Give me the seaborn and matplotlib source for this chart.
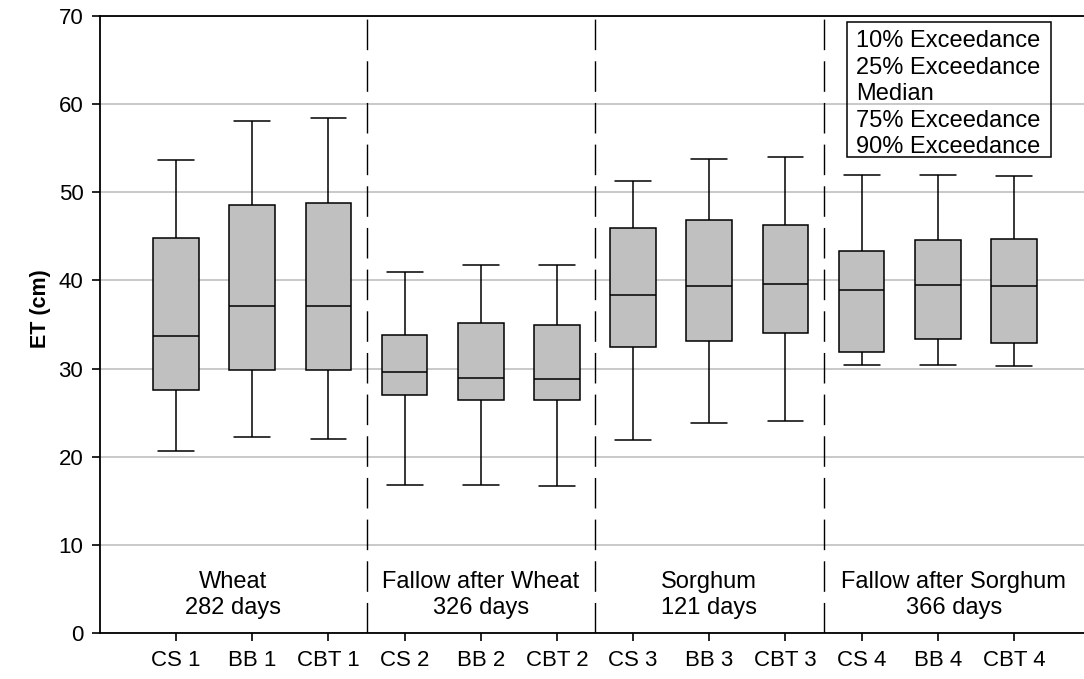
import numpy as np
import pandas as pd
import matplotlib
matplotlib.use('Agg')
import matplotlib.pyplot as plt
import seaborn as sns
from matplotlib.patches import Rectangle

sites = ['CS 1', 'BB 1', 'CBT 1', 'CS 2', 'BB 2', 'CBT 2',
         'CS 3', 'BB 3', 'CBT 3', 'CS 4', 'BB 4', 'CBT 4']
# exceedance levels (cm)
exc10 = [53.7, 58.1, 58.4, 41.0, 41.8, 41.8, 51.3, 53.8, 54.0, 52.0, 52.0, 51.9]
exc25 = [44.85, 48.6, 48.8, 33.8, 35.2, 34.9, 45.9, 46.8, 46.3, 43.3, 44.6, 44.7]
median = [33.75, 37.05, 37.1, 29.6, 28.9, 28.8, 38.3, 39.35, 39.65, 38.9, 39.5, 39.4]
exc75 = [27.6, 29.8, 29.8, 27.05, 26.4, 26.4, 32.4, 33.1, 34.0, 31.85, 33.3, 32.95]
exc90 = [20.6, 22.2, 22.0, 16.8, 16.8, 16.7, 21.85, 23.8, 24.0, 30.4, 30.45, 30.3]

periods = ['Wheat\n282 days', 'Fallow after Wheat\n326 days',
           'Sorghum\n121 days', 'Fallow after Sorghum\n366 days']
legend_lines = ['10% Exceedance', '25% Exceedance', 'Median',
                '75% Exceedance', '90% Exceedance']

# five points per site -> quartiles land exactly on 25/50/75, whiskers on min/max
rows = []
for i, s in enumerate(sites):
    for v in (exc90[i], exc75[i], median[i], exc25[i], exc10[i]):
        rows.append((s, v))
df = pd.DataFrame(rows, columns=['site', 'ET'])

sns.set_style('ticks')
plt.rcParams['font.family'] = ['Liberation Sans', 'DejaVu Sans']
plt.rcParams['text.color'] = 'black'
plt.rcParams['axes.labelcolor'] = 'black'
plt.rcParams['xtick.color'] = 'black'
plt.rcParams['ytick.color'] = 'black'

fig = plt.figure(figsize=(10.84, 6.79), dpi=100)
ax = fig.add_axes([100 / 1084, 46 / 679, 1 - 100 / 1084, 617 / 679])

ax.yaxis.grid(True, color='#c0c0c0', lw=1.2, zorder=0)
ax.set_axisbelow(True)

sns.boxplot(data=df, x='site', y='ET', order=sites, whis=(0, 100), width=0.6,
            color='#c0c0c0', saturation=1, linecolor='black', linewidth=1.1,
            showfliers=False, capwidths=0.47, ax=ax)

xmin, xmax = -1.0, 11.92
dividers = [2.5, 5.5, 8.5]
for xd in dividers:
    ax.axvline(xd, color='black', lw=1, dashes=(22, 8), zorder=3)

# period labels centred in each segment between dividers / axis edges
edges = [xmin] + dividers + [xmax]
for k, txt in enumerate(periods):
    ax.text((edges[k] + edges[k + 1]) / 2, 4.3, txt, ha='center', va='center',
            fontsize=17, linespacing=1.2)

ax.set_xlim(xmin, xmax)
ax.set_ylim(0, 70)
ax.set_yticks(range(0, 71, 10))
ax.set_xlabel('')
ax.set_ylabel('ET (cm)', fontsize=15.5, fontweight='bold')
ax.yaxis.set_label_coords(-0.05, 0.525)
ax.tick_params(axis='both', labelsize=16, length=6, width=1.2, pad=6, color='black')
for sp in ('left', 'bottom', 'top'):
    ax.spines[sp].set_linewidth(1.3)
    ax.spines[sp].set_color('black')
ax.spines['right'].set_visible(False)

# text-only legend box
fig.patches.append(Rectangle((847 / 1084, 1 - 157 / 679), 204 / 1084, 135 / 679,
                             transform=fig.transFigure, fill=False,
                             edgecolor='black', lw=1.1, zorder=5))
for k, line in enumerate(legend_lines):
    fig.text(856 / 1084, 1 - (47.3 + 26.5 * k) / 679, line, ha='left',
             va='baseline', fontsize=17)

fig.savefig('out.png', dpi=100)
